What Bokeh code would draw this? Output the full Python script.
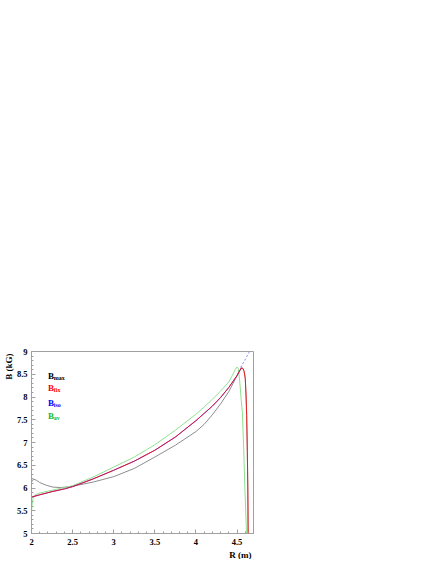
import numpy as np
from bokeh.plotting import figure
from bokeh.models import Label, FixedTicker, Range1d, Title
from bokeh.embed import file_html
from bokeh.resources import INLINE

# ---- data ----
x_ticks = [2.0, 2.5, 3.0, 3.5, 4.0, 4.5]
x_tick_labels = ["2", "2.5", "3", "3.5", "4", "4.5"]
y_ticks = [5.0, 5.5, 6.0, 6.5, 7.0, 7.5, 8.0, 8.5, 9.0]
y_tick_labels = ["5", "5.5", "6", "6.5", "7", "7.5", "8", "8.5", "9"]

R_max = [2.00, 2.01, 2.03, 2.06, 2.10, 2.18, 2.26, 2.35, 2.42, 2.50, 2.75, 3.00, 3.25,
         3.50, 3.75, 4.00, 4.10, 4.20, 4.30, 4.40, 4.48, 4.53, 4.555, 4.57, 4.585, 4.60,
         4.61, 4.617, 4.625, 4.631, 4.635]
B_max = [6.12, 6.17, 6.19, 6.17, 6.12, 6.06, 6.02, 6.01, 6.02, 6.04, 6.13, 6.25, 6.43,
         6.68, 6.94, 7.24, 7.40, 7.61, 7.85, 8.12, 8.40, 8.58, 8.64, 8.63, 8.57, 8.41,
         8.00, 7.59, 6.80, 6.00, 5.00]

R_fix = [2.00, 2.10, 2.25, 2.40, 2.50, 2.75, 3.00, 3.25, 3.50, 3.75, 4.00, 4.10, 4.20,
         4.30, 4.40, 4.50, 4.53, 4.553, 4.57, 4.585, 4.60, 4.61, 4.617, 4.625, 4.631, 4.635]
B_fix = [5.80, 5.85, 5.92, 5.98, 6.03, 6.20, 6.39, 6.59, 6.83, 7.12, 7.48, 7.64, 7.80,
         7.99, 8.21, 8.47, 8.57, 8.64, 8.63, 8.57, 8.41, 8.00, 7.59, 6.80, 6.00, 5.00]

R_iso = [2.00, 2.10, 2.25, 2.40, 2.50, 2.75, 3.00, 3.25, 3.50, 3.75, 4.00, 4.10, 4.20,
         4.30, 4.40, 4.50, 4.53, 4.553]
B_iso = [5.80, 5.85, 5.92, 5.98, 6.03, 6.20, 6.39, 6.59, 6.83, 7.12, 7.48, 7.64, 7.80,
         7.99, 8.21, 8.47, 8.57, 8.64]
R_iso_ext = [4.544, 4.60, 4.668]
B_iso_ext = [8.65, 8.83, 9.05]

R_av = [2.000, 2.005, 2.015, 2.04, 2.08, 2.20, 2.35, 2.50, 2.75, 3.00, 3.25, 3.50, 3.75,
        4.00, 4.10, 4.20, 4.30, 4.40, 4.45, 4.48, 4.50, 4.515, 4.53, 4.55, 4.565, 4.58,
        4.595, 4.615]
B_av = [5.45, 5.60, 5.75, 5.84, 5.88, 5.93, 5.99, 6.05, 6.24, 6.46, 6.68, 6.95, 7.27,
        7.62, 7.78, 7.95, 8.13, 8.33, 8.50, 8.61, 8.66, 8.63, 8.40, 7.95, 7.65, 6.90,
        6.00, 5.00]

legend_subs = ["max", "fix", "iso", "av"]
legend_colors = ["black", "#ff0000", "#0000ff", "#22bb22"]

# ---- figure ----
FONT = "Liberation Serif"
FRAME = "#a0a0a0"

p = figure(frame_width=222, frame_height=182,
           min_border_left=31, min_border_right=175,
           min_border_top=351, min_border_bottom=23,
           x_range=Range1d(2.0, 4.7), y_range=Range1d(5.0, 9.0),
           output_backend="svg", toolbar_location=None)
p.grid.visible = False
p.outline_line_color = FRAME
p.outline_line_width = 1
p.background_fill_color = "white"
p.border_fill_color = "white"

p.xaxis.ticker = FixedTicker(ticks=x_ticks,
                             minor_ticks=list(np.round(np.arange(2.0, 4.71, 0.1), 3)))
p.yaxis.ticker = FixedTicker(ticks=y_ticks,
                             minor_ticks=list(np.round(np.arange(5.0, 9.01, 0.1), 3)))
p.xaxis.major_label_overrides = dict(zip(x_ticks, x_tick_labels))
p.yaxis.major_label_overrides = dict(zip(y_ticks, y_tick_labels))

for ax in (p.xaxis[0], p.yaxis[0]):
    ax.axis_line_color = FRAME
    ax.major_tick_line_color = FRAME
    ax.minor_tick_line_color = FRAME
    ax.major_tick_in = 4
    ax.major_tick_out = 0
    ax.minor_tick_in = 2
    ax.minor_tick_out = 0
    ax.major_label_standoff = 5
    ax.major_label_text_font = FONT
    ax.major_label_text_font_style = "bold"
    ax.major_label_text_font_size = "8.5px"
    ax.major_label_text_color = "black"
p.yaxis.major_label_standoff = 4

# axis titles placed at the frame ends, as in the reference
p.add_layout(Title(text="B (kG)", align="right", standoff=0, offset=2,
                   text_font=FONT, text_font_style="bold", text_font_size="9px",
                   text_color="black"), "left")
p.add_layout(Title(text="R (m)", align="right", standoff=0, offset=2,
                   text_font=FONT, text_font_style="bold", text_font_size="9px",
                   text_color="black"), "below")

# ---- curves ----
p.line(R_max, B_max, line_color="#808080", line_width=0.9)
p.line(R_av, B_av, line_color="#8fe08f", line_width=1)
p.line(R_iso, B_iso, line_color="#5050ff", line_width=1)
p.line(R_iso_ext, B_iso_ext, line_color="#8888ff", line_width=1, line_dash="2 2")
p.line(R_fix, B_fix, line_color="#ff0000", line_width=1, line_alpha=0.8)

# ---- legend labels ----
x0, y0 = 2.0, 9.0   # top-left corner of frame
base_offsets = [-24, -36.3, -51.3, -64.7]
for sub, col, yo in zip(legend_subs, legend_colors, base_offsets):
    p.add_layout(Label(x=x0, y=y0, x_offset=16.6, y_offset=yo, text="B",
                       text_align="left", text_baseline="alphabetic", text_color=col,
                       text_font=FONT, text_font_style="bold", text_font_size="9px"))
    p.add_layout(Label(x=x0, y=y0, x_offset=22.3, y_offset=yo - 2.2, text=sub,
                       text_align="left", text_baseline="alphabetic", text_color=col,
                       text_font=FONT, text_font_style="bold", text_font_size="6px"))

open("out.html", "w").write(file_html(p, INLINE))
